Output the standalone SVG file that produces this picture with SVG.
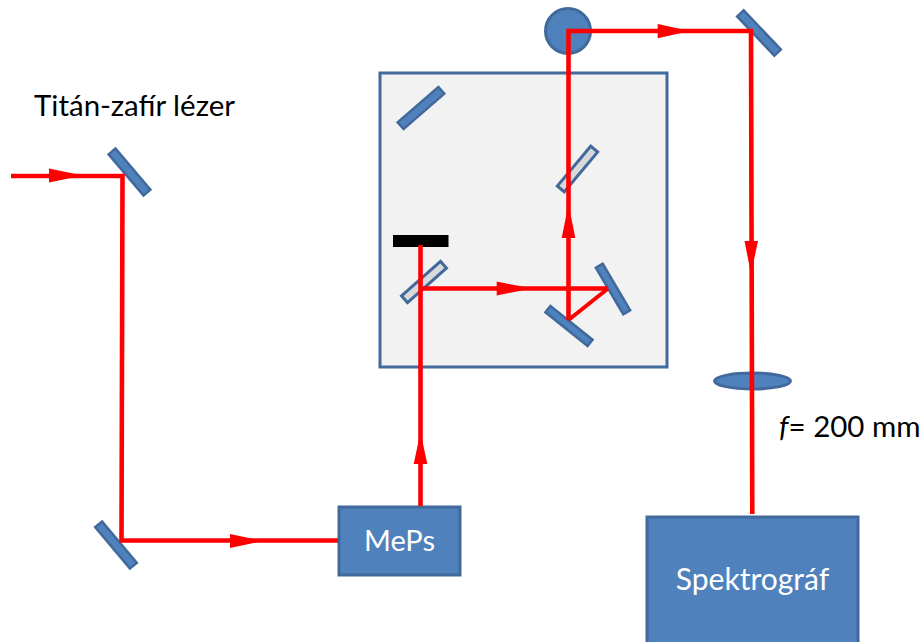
<svg xmlns="http://www.w3.org/2000/svg" width="921" height="642" viewBox="0 0 921 642">
<style>
.b{fill:#4f81bd;stroke:#41699b;stroke-width:3}
.s{fill:#d9d9d9;stroke:#41699b;stroke-width:3}
.k{fill:#4f81bd;stroke:#41699b;stroke-width:2.5}
.r{fill:none;stroke:#ff0000;stroke-width:4.600;stroke-linejoin:miter}
.h{fill:#ff0000;stroke:none}
text{font-family:"Lato","Open Sans",sans-serif}
.t{font-size:29.500px;fill:#000}
.w{font-size:30px;fill:#fff;text-anchor:middle}
</style>
<rect width="921" height="642" fill="#fff"/>
<g id="box"><rect x="380" y="73" width="287" height="294" fill="#f2f2f2" stroke="#41699b" stroke-width="3"/></g>
<g id="source"><circle cx="568" cy="31" r="22.5" class="b"/></g>
<g id="lens"><ellipse cx="752.5" cy="381" rx="38" ry="8" class="b"/></g>
<g id="mirror-1"><rect x="-27" y="-4.5" width="54" height="9" class="k" transform="translate(129.5 172) rotate(49.7)"/></g>
<g id="mirror-2"><rect x="-27" y="-4.5" width="54" height="9" class="k" transform="translate(116 545) rotate(50)"/></g>
<g id="mirror-3"><rect x="-27" y="-4.5" width="54" height="9" class="k" transform="translate(759 33) rotate(46.5)"/></g>
<g id="mirror-4"><rect x="-27" y="-4.5" width="54" height="9" class="k" transform="translate(421 108) rotate(-41)"/></g>
<g id="mirror-5"><rect x="-27" y="-4" width="54" height="8" class="k" transform="translate(613 289) rotate(59.5)"/></g>
<g id="mirror-6"><rect x="-27" y="-4" width="54" height="8" class="k" transform="translate(569 326) rotate(38.7)"/></g>
<g id="splitter-1"><rect x="-26" y="-4.5" width="52" height="9" class="s" transform="translate(577.5 169) rotate(-50)"/></g>
<g id="splitter-2"><rect x="-26" y="-4.5" width="52" height="9" class="s" transform="translate(424 282) rotate(-41.5)"/></g>
<g id="beam-block"><rect x="393" y="235" width="55.500" height="12" fill="#000"/></g>
<g id="meps"><rect x="339" y="507" width="121" height="68" class="b"/><text x="399.500" y="551" class="w" style="font-size:29px">MePs</text></g>
<g id="spektrograf"><rect x="647" y="517" width="211" height="130" class="b"/><text x="752.500" y="590" class="w">Spektrográf</text></g>
<g id="connectors">
<path class="r" d="M11 176H122.500L121.500 540.500H338"/>
<path class="r" d="M420.500 506V245"/>
<path class="r" d="M421 288.500H608"/>
<path class="r" style="stroke-width:4" d="M608 288.500L568.500 320"/>
<path class="r" d="M568.500 320V31H751L752.300 514"/>
<path class="h" d="M49 168.500L83 175.500L49 182.500Z"/>
<path class="h" d="M230 534L263 541L230 548Z"/>
<path class="h" d="M413.700 464L420.500 432L427.300 464Z"/>
<path class="h" d="M496.700 281.500L532 288.500L496.700 295.500Z"/>
<path class="h" d="M561.700 238L568.500 204L575.300 238Z"/>
<path class="h" d="M657.700 24L690 31L657.700 38.300Z"/>
<path class="h" d="M744.500 241L751 274L758 241Z"/>
</g>
<g id="labels">
<text x="34" y="116" class="t">Titán-zafír lézer</text>
<text x="779" y="437" class="t"><tspan font-style="italic">f</tspan>= 200 mm</text>
</g>
</svg>
